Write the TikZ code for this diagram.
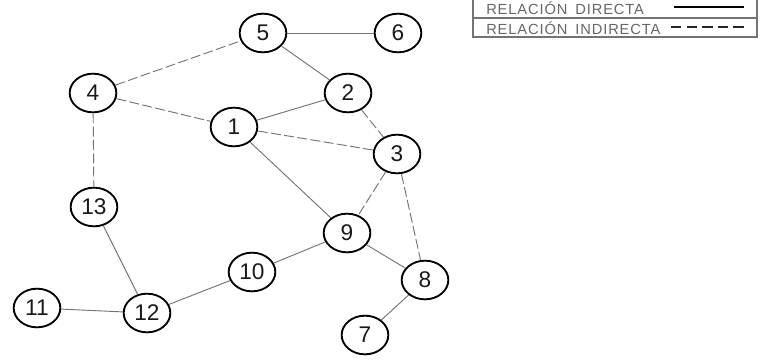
\documentclass[tikz,border=0pt]{standalone}
\usepackage{fontspec}
\setmainfont{Liberation Sans}
\newfontfamily\legendfont[LetterSpace=6]{Liberation Sans}
\usepackage{tikz}
\usetikzlibrary{positioning, shapes.geometric}

\begin{document}
\begin{tikzpicture}[x=0.75pt, y=-0.75pt,
    vertex/.style={draw, ellipse, line width=1.4pt, minimum width=35pt, minimum height=29pt,
      inner sep=0pt, text=black!90, font=\fontsize{17}{17}\selectfont},
    direct/.style={draw=black!55, line width=0.7pt},
    indirect/.style={draw=black!55, line width=0.7pt, dash pattern=on 7.5pt off 2.5pt},
    legendtext/.style={anchor=west, inner sep=0pt, text=black!60, font=\legendfont\fontsize{11}{12}\selectfont}]
          \useasboundingbox (0,0) rectangle (761,360);

          \node[vertex] (1) at (234,127) {1};
          \node[vertex] (2) at (348,93) {2};
          \node[vertex] (3) at (397,154) {3};
          \node[vertex] (4) at (93,93) {4};
          \node[vertex] (5) at (263,33) {5};
          \node[vertex] (6) at (398,33) {6};
          \node[vertex] (7) at (365,335) {7};
          \node[vertex] (8) at (425,280) {8};
          \node[vertex] (9) at (347,233) {9};
          \node[vertex] (10) at (252,272) {10};
          \node[vertex] (11) at (37,308) {11};
          \node[vertex] (12) at (147,313) {12};
          \node[vertex] (13) at (94,207) {13};

          \draw[direct] (5) -- (6);
          \draw[direct] (5) -- (2);
          \draw[direct] (2) -- (1);
          \draw[direct] (1) -- (9);
          \draw[direct] (9) -- (10);
          \draw[direct] (10) -- (12);
          \draw[direct] (12) -- (11);
          \draw[direct] (12) -- (13);
          \draw[direct] (9) -- (8);
          \draw[direct] (8) -- (7);

          \draw[indirect] (4) -- (5);
          \draw[indirect] (4) -- (1);
          \draw[indirect] (4) -- (13);
          \draw[indirect] (1) -- (3);
          \draw[indirect] (2) -- (3);
          \draw[indirect] (3) -- (9);
          \draw[indirect] (3) -- (8);

          % legend
          \draw[black!55, line width=1pt] (473,-1) rectangle (757,37);
          \draw[black!55, line width=1pt] (473,18) -- (757,18);
          \node[legendtext] (directa) at (486,8.5) {RELACIÓN\hspace{6pt}DIRECTA};
          \node[legendtext] (indirecta) at (486,28) {RELACIÓN\hspace{6pt}INDIRECTA};
          \coordinate (d1) at (674,7.5);
          \coordinate (d2) at (744,7.5);
          \coordinate (i1) at (671,27.5);
          \coordinate (i2) at (744,27.5);
          \draw[black, line width=1.5pt] (d1) -- (d2);
          \draw[black!85, line width=1.5pt, dash pattern=on 7.8pt off 3.9pt] (i1) -- (i2);
        \end{tikzpicture}
\end{document}
